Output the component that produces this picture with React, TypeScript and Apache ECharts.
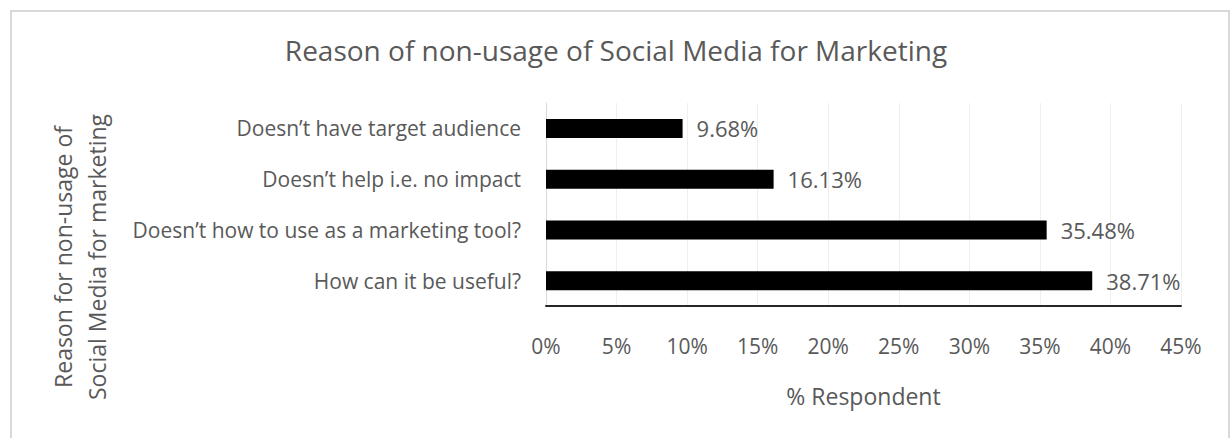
import React, { useEffect, useRef } from "react";
import * as echarts from "echarts";

const categories = [
  "How can it be useful?",
  "Doesn’t how to use as a marketing tool?",
  "Doesn’t help i.e. no impact",
  "Doesn’t have target audience",
];
const values = [38.71, 35.48, 16.13, 9.68];
const xTicks = { min: 0, max: 45, interval: 5 };
const titleText = "Reason of non-usage of Social Media for Marketing";
const yAxisTitle = ["Reason for non-usage of", "Social Media for marketing"];
const xAxisTitle = "% Respondent";

const FONT = "Open Sans";
const TXT = "#595959";

export default function App() {
  const ref = useRef<HTMLDivElement>(null);
  useEffect(() => {
    document.body.style.margin = "0";
    const chart = echarts.init(ref.current!, null, { renderer: "svg" });
    chart.setOption({
      animation: false,
      backgroundColor: "#ffffff",
      textStyle: { fontFamily: FONT },
      title: {
        text: titleText,
        left: "center",
        top: 31,
        textStyle: { fontFamily: FONT, fontSize: 28, fontWeight: "normal", color: TXT },
      },
      graphic: [
        {
          type: "rect",
          shape: { x: 11, y: 11, width: 1218, height: 450 },
          style: { fill: "none", stroke: "#d9d9d9", lineWidth: 2 },
          silent: true,
        },
        {
          type: "text",
          x: 63,
          y: 257,
          rotation: Math.PI / 2,
          style: {
            text: yAxisTitle[0],
            fontFamily: FONT,
            fontSize: 23,
            fill: TXT,
            align: "center",
            verticalAlign: "middle",
          },
        },
        {
          type: "text",
          x: 97,
          y: 257,
          rotation: Math.PI / 2,
          style: {
            text: yAxisTitle[1],
            fontFamily: FONT,
            fontSize: 23,
            fill: TXT,
            align: "center",
            verticalAlign: "middle",
          },
        },
      ],
      grid: { left: 546, right: 51, top: 103, bottom: 132, containLabel: false },
      xAxis: {
        type: "value",
        min: xTicks.min,
        max: xTicks.max,
        interval: xTicks.interval,
        name: xAxisTitle,
        nameLocation: "middle",
        nameGap: 78,
        nameTextStyle: { fontFamily: FONT, fontSize: 23, color: TXT },
        axisLine: { show: true, lineStyle: { color: "#262626", width: 2 } },
        axisTick: { show: false },
        axisLabel: {
          formatter: (v: number) => `${v}%`,
          fontFamily: FONT,
          fontSize: 21,
          color: TXT,
          margin: 29,
        },
        splitLine: { show: true, lineStyle: { color: "#efefef", width: 1 } },
      },
      yAxis: {
        type: "category",
        data: categories,
        axisLine: { show: true, lineStyle: { color: "#d9d9d9", width: 1 } },
        axisTick: { show: false },
        axisLabel: { fontFamily: FONT, fontSize: 21, color: TXT, margin: 25 },
        splitLine: { show: false },
      },
      series: [
        {
          type: "bar",
          data: values,
          barWidth: 19,
          itemStyle: { color: "#000000" },
          label: {
            show: true,
            position: "right",
            distance: 14,
            formatter: (p: any) => `${p.value.toFixed(2)}%`,
            fontFamily: FONT,
            fontSize: 22,
            color: TXT,
          },
        },
      ],
    });
    return () => chart.dispose();
  }, []);
  return <div ref={ref} style={{ width: 1232, height: 438 }} />;
}
